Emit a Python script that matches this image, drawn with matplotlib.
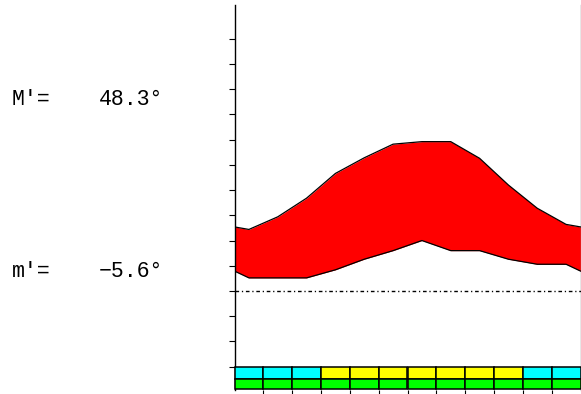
import matplotlib
matplotlib.use("Agg")
import matplotlib.pyplot as plt
import numpy as np

months = list(range(1, 13))
t_max = [12.2, 14.7, 18.4, 23.3, 26.4, 29.1, 29.6, 29.6, 26.3, 21.0, 16.4, 13.2]
t_min = [2.6, 2.6, 2.6, 4.2, 6.3, 8.0, 10.0, 8.0, 8.0, 6.3, 5.3, 5.3]
season_colors = ["#00FFFF", "#00FFFF", "#00FFFF", "#FFFF00", "#FFFF00", "#FFFF00",
                 "#FFFF00", "#FFFF00", "#FFFF00", "#FFFF00", "#00FFFF", "#00FFFF"]
frost_colors = ["#00FF00"] * 12
abs_max_label = "48.3°"
abs_min_label = "−5.6°"

fig = plt.figure(figsize=(5.81, 3.94), dpi=100)
ax = fig.add_axes([234.5 / 581, 4.5 / 394, 346 / 581, 384 / 394])
ax.set_xlim(0, 12)
ax.set_ylim(-19.52, 56.58)

# wrap-around edges
edge_max = (t_max[0] + t_max[-1]) / 2
edge_min = (t_min[0] + t_min[-1]) / 2
x = np.concatenate([[0], np.array(months) - 0.5, [12]])
ymax = np.concatenate([[edge_max], t_max, [edge_max]])
ymin = np.concatenate([[edge_min], t_min, [edge_min]])

ax.fill_between(x, ymin, ymax, color="#FF0000", lw=0, zorder=2)
ax.plot(x, ymax, color="black", lw=0.9, zorder=3)
ax.plot(x, ymin, color="black", lw=0.9, zorder=3)

ax.axhline(0, color="black", lw=1.0, dashes=(2.6, 2.0, 0.9, 2.0), zorder=3)

centers = np.array(months) - 0.5
ax.bar(centers, -2.5, bottom=-15, width=1, color=season_colors,
       edgecolor="black", linewidth=1.1, zorder=4, clip_on=False)
ax.bar(centers, -2.0, bottom=-17.5, width=1, color=frost_colors,
       edgecolor="black", linewidth=1.1, zorder=4, clip_on=False)

ax.set_yticks(np.arange(-15, 51, 5))
ax.set_xticks(np.arange(1, 12))
ax.tick_params(axis="y", direction="out", length=4.3, width=0.8, labelleft=False)
ax.tick_params(axis="x", direction="out", length=3.5, width=0.8, labelbottom=False)

for s in ["top", "bottom"]:
    ax.spines[s].set_visible(False)
ax.spines["left"].set_linewidth(1.0)
ax.spines["right"].set_color("#888888")
ax.spines["right"].set_linewidth(1.0)

fkw = dict(family="Liberation Mono", fontsize=15.5, color="black", va="baseline", ha="left")
fig.text(12 / 581, 1 - 105 / 394, "M′=", **fkw)
fig.text(99 / 581, 1 - 105 / 394, abs_max_label, **fkw)
fig.text(12 / 581, 1 - 277 / 394, "m′=", **fkw)
fig.text(99 / 581, 1 - 277 / 394, abs_min_label, **fkw)

fig.savefig("out.png", dpi=100)
